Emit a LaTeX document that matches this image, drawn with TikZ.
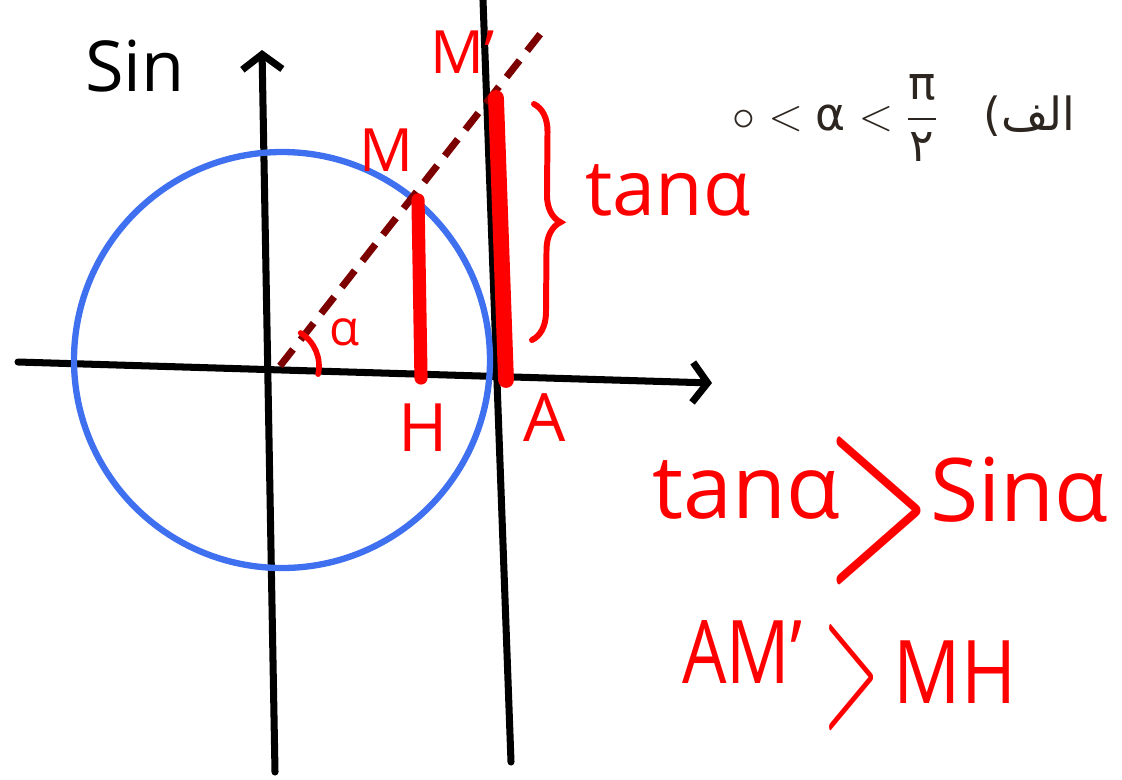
\RequirePackage{fix-cm}
\documentclass[tikz,border=0pt]{standalone}
\usepackage{amsmath}
\usepackage{fontspec}
\newfontfamily\hand{Open Sans}
\newfontfamily\greekfont{DejaVu Sans}
\newfontfamily\arabicfont[Script=Arabic]{DejaVu Sans}
\TeXXeTstate=1
\usetikzlibrary{arrows.meta, decorations.pathreplacing, positioning}
\definecolor{circblue}{RGB}{62,112,240}
\definecolor{rayred}{RGB}{125,0,0}
\definecolor{ink}{RGB}{45,38,32}

\begin{document}
\begin{tikzpicture}[
  x=0.02cm, y=-0.02cm,
  axis/.style  = {line width=4pt, line cap=round,
                  -{Straight Barb[length=3mm, width=8mm, line width=4pt]}},
  tline/.style = {line width=4pt, line cap=round},
  ray/.style   = {line width=4pt, draw=rayred, dash pattern=on 12pt off 7pt},
  seg/.style   = {line width=7.5pt, draw=red, line cap=round},
  lbl/.style   = {text=red, inner sep=0pt, font=\hand\fontsize{34}{36}\selectfont},
  big/.style   = {text=red, inner sep=0pt, font=\hand\fontsize{50}{52}\selectfont},
  gtsign/.style = {text=red, inner sep=0pt, text depth=0pt}
]
  \useasboundingbox (0,0) rectangle (1122,779);

  % axes and tangent line
  \coordinate (O)  at (280,366);
  \draw[axis] (18,362) coordinate (xl) -- (712,383) coordinate (xr);
  \draw[axis] (275,772) coordinate (yb) -- (262,50) coordinate (yt);
  \draw[tline] (483,0) coordinate (tt) -- (511,762) coordinate (tb);

  % unit circle
  \draw[circblue, line width=3.6pt] (282,360) circle (208);

  % ray through M and M'
  \coordinate (M)  at (418,200);
  \coordinate (Mp) at (496,98);
  \coordinate (H)  at (421,378);
  \coordinate (A)  at (506,380);
  \draw[ray] (O) -- (545,28) coordinate (rayend);

  % sin and tan segments
  \draw[seg] (M) -- (H);
  \draw[seg, line width=9pt] (Mp) -- (A);

  % angle mark
  \draw[red, line width=3.2pt, line cap=round] (O) ++(12:39) arc (12:-58:39);

  % brace for tan
  \coordinate (bt) at (534,104);
  \coordinate (bb) at (532,340);
  \draw[red, line width=3.4pt, line cap=round,
        decorate, decoration={brace, amplitude=0.55cm}] (bt) -- (bb);

  % labels
  \node[lbl, text=black, font=\hand\fontsize{40}{42}\selectfont] (sinlbl) at (135,66) {Sin};
  \node[lbl] (Mlbl)  at (386,150) {M};
  \node[lbl] (Mplbl) at (463,52)  {M’};
  \node[lbl, font=\hand\fontsize{28}{30}\selectfont] (alpha) at (345,332) {α};
  \node[lbl, font=\hand\fontsize{38}{40}\selectfont] (Hlbl) at (423,428) {H};
  \node[lbl, font=\hand\fontsize{38}{40}\selectfont] (Albl) at (545,418) {A};
  \node[lbl, font=\hand\fontsize{44}{46}\selectfont] (tanlbl) at (668,190) {tanα};

  % condition
  \node[text=ink, inner sep=0pt, font=\fontsize{26}{30}\selectfont] (cond) at (904,118)
    {$\circ<\text{\greekfont α}<\dfrac{\text{\greekfont π}}{\text{\arabicfont ۲}}$\quad
     {\greekfont (}{\arabicfont\beginR الف\endR}};

  % inequalities
  \node[big] (tanb) at (746,490) {tanα};
  \node[gtsign, font=\fontsize{80}{80}\selectfont, yscale=1.9] (gtone) at (879,507) {$>$};
  \node[big] (sinb) at (1019,490) {Sinα};
  \node[big, xscale=0.8] (amb) at (742,652) {AM’};
  \node[gtsign, font=\fontsize{42}{42}\selectfont, yscale=2.6] (gttwo) at (852,675) {$>$};
  \node[big, xscale=0.85] (mhb) at (955,672) {MH};
\end{tikzpicture}
\end{document}
